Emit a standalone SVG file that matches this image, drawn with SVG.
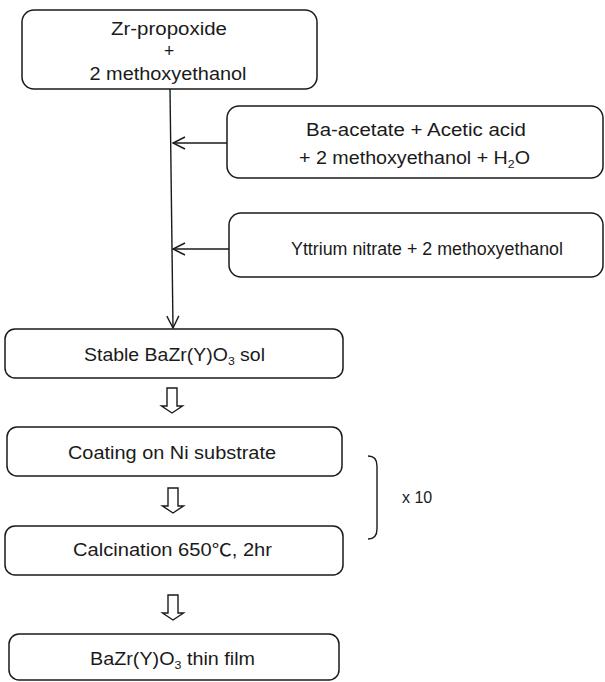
<svg xmlns="http://www.w3.org/2000/svg" width="605" height="682" viewBox="0 0 605 682">
<style>
.box{fill:#fff;stroke:#1a1a1a;stroke-width:1.5}
.t{font-family:"Liberation Sans","Noto Sans CJK KR",sans-serif;font-size:17.5px;fill:#1a1a1a;text-anchor:middle}
.sub{font-size:11px}
.ln{fill:none;stroke:#1a1a1a;stroke-width:1.4}
.hol{fill:#fff;stroke:#1a1a1a;stroke-width:1.4;stroke-linejoin:miter}
</style>
<defs>
<marker id="open" viewBox="-13 -7 15 14" refX="0" refY="0" markerWidth="15" markerHeight="14" markerUnits="userSpaceOnUse" orient="auto">
<path d="M-12,-6 L0,0 L-12,6" fill="none" stroke="#1a1a1a" stroke-width="1.4"/>
</marker>
<path id="harrow" d="M-5,0 H5 V18 H10.5 L0,25 L-10.5,18 H-5 Z"/>
</defs>
<rect width="605" height="682" fill="#fff"/>

<g id="connectors">
<line class="ln" x1="170" y1="89" x2="173" y2="328" marker-end="url(#open)"/>
<line class="ln" x1="227" y1="143" x2="173" y2="143" marker-end="url(#open)"/>
<line class="ln" x1="229" y1="249" x2="173" y2="249" marker-end="url(#open)"/>
<use href="#harrow" class="hol" transform="translate(172,388)"/>
<use href="#harrow" class="hol" transform="translate(173,488)"/>
<use href="#harrow" class="hol" transform="translate(173,595)"/>
<path class="ln" d="M368,456 Q377,456 377,466 V529 Q377,539 368,539"/>
</g>

<g id="zr">
<rect class="box" x="22" y="10" width="295" height="79" rx="12"/>
<text class="t" x="169" y="35" textLength="116" lengthAdjust="spacingAndGlyphs">Zr-propoxide</text>
<text class="t" x="169" y="57">+</text>
<text class="t" x="168" y="80" textLength="157" lengthAdjust="spacingAndGlyphs">2 methoxyethanol</text>
</g>

<g id="ba">
<rect class="box" x="227" y="106" width="376" height="72" rx="12"/>
<text class="t" x="416" y="136" textLength="220" lengthAdjust="spacingAndGlyphs">Ba-acetate + Acetic acid</text>
<text class="t" x="414.5" y="164" textLength="231" lengthAdjust="spacingAndGlyphs">+ 2 methoxyethanol + H<tspan class="sub" dy="4">2</tspan><tspan dy="-4">O</tspan></text>
</g>

<g id="yttrium">
<rect class="box" x="229" y="213" width="374" height="64" rx="12"/>
<text class="t" x="427" y="255" textLength="272" lengthAdjust="spacingAndGlyphs">Yttrium nitrate + 2 methoxyethanol</text>
</g>

<g id="stable">
<rect class="box" x="5" y="329" width="338" height="49" rx="10"/>
<text class="t" x="174.5" y="361" textLength="181" lengthAdjust="spacingAndGlyphs">Stable BaZr(Y)O<tspan class="sub" dy="4">3</tspan><tspan dy="-4"> sol</tspan></text>
</g>

<g id="coating">
<rect class="box" x="7" y="427" width="335" height="49" rx="10"/>
<text class="t" x="172" y="459" textLength="208" lengthAdjust="spacingAndGlyphs">Coating on Ni substrate</text>
</g>

<g id="calcination">
<rect class="box" x="5" y="526" width="338" height="49" rx="10"/>
<text class="t" x="172.5" y="556" textLength="199" lengthAdjust="spacingAndGlyphs">Calcination 650℃, 2hr</text>
</g>

<g id="film">
<rect class="box" x="9" y="634" width="330" height="46" rx="10"/>
<text class="t" x="172.5" y="665" textLength="165" lengthAdjust="spacingAndGlyphs">BaZr(Y)O<tspan class="sub" dy="4">3</tspan><tspan dy="-4"> thin film</tspan></text>
</g>

<g id="repeat">
<text class="t" x="402" y="503" style="text-anchor:start;font-size:16px">x 10</text>
</g>
</svg>
